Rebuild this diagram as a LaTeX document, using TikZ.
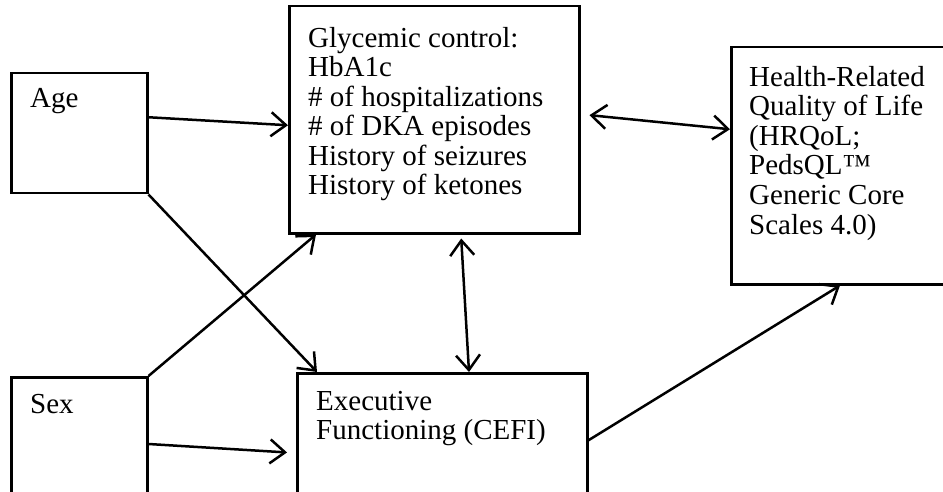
\documentclass[tikz,border=0pt]{standalone}
\usepackage{fontspec}
\setmainfont{Liberation Serif}
\usetikzlibrary{arrows.meta}
\begin{document}
\begin{tikzpicture}[x=1pt,y=-1pt,>={Straight Barb[length=15pt,width=24pt]},
  box/.style={draw,line width=2.5pt,rectangle,inner sep=0pt,anchor=north west},
  lbl/.style={inner sep=0pt,anchor=base west,align=left,font=\fontsize{29}{29.6}\selectfont}]
\clip (0,0) rectangle (943,492);
\node[box,minimum width=136pt,minimum height=120pt] (age) at (10,72) {};
\node[box,minimum width=136pt,minimum height=170pt] (sex) at (10,376) {};
\node[box,minimum width=290pt,minimum height=227pt] (glyc) at (288,5) {};
\node[box,minimum width=230pt,minimum height=237pt] (hrqol) at (730,46) {};
\node[box,minimum width=290pt,minimum height=150pt] (exec) at (296,372) {};
\node[lbl] (agetxt) at (30,108) {Age};
\node[lbl] (sextxt) at (30,413) {Sex};
\node[lbl] (glyctxt) at (308,195) {Glycemic control:\\HbA1c\\\# of hospitalizations\\\# of DKA episodes\\History of seizures\\History of ketones};
\node[lbl] (hrqoltxt) at (749,234) {Health-Related\\Quality of Life\\(HRQoL;\\PedsQL™\\Generic Core\\Scales 4.0)};
\node[lbl] (exectxt) at (316,439.6) {Executive\\Functioning (CEFI)};
\path[draw,line width=2.5pt,->] ([yshift=16pt]age.east) -- ([yshift=-5.5pt]glyc.west);
\path[draw,line width=2.5pt,->] (age.south east) -- ([xshift=21pt]exec.north west);
\path[draw,line width=2.5pt,->] (sex.north east) -- ([xshift=28pt]glyc.south west);
\path[draw,line width=2.5pt,->,shorten >=9pt] ([yshift=-68pt]sex.north east) -- ([yshift=-81pt]exec.north west);
\path[draw,line width=2.5pt,<->,shorten <=4pt] ([xshift=173pt]glyc.south west) -- ([xshift=173pt]exec.north west);
\path[draw,line width=2.5pt,<->,shorten <=9pt] ([yshift=5.5pt]glyc.east) -- ([yshift=36.5pt]hrqol.west);
\path[draw,line width=2.5pt,->] ([yshift=8pt]exec.east) -- ([xshift=110pt]hrqol.south west);
\end{tikzpicture}
\end{document}
